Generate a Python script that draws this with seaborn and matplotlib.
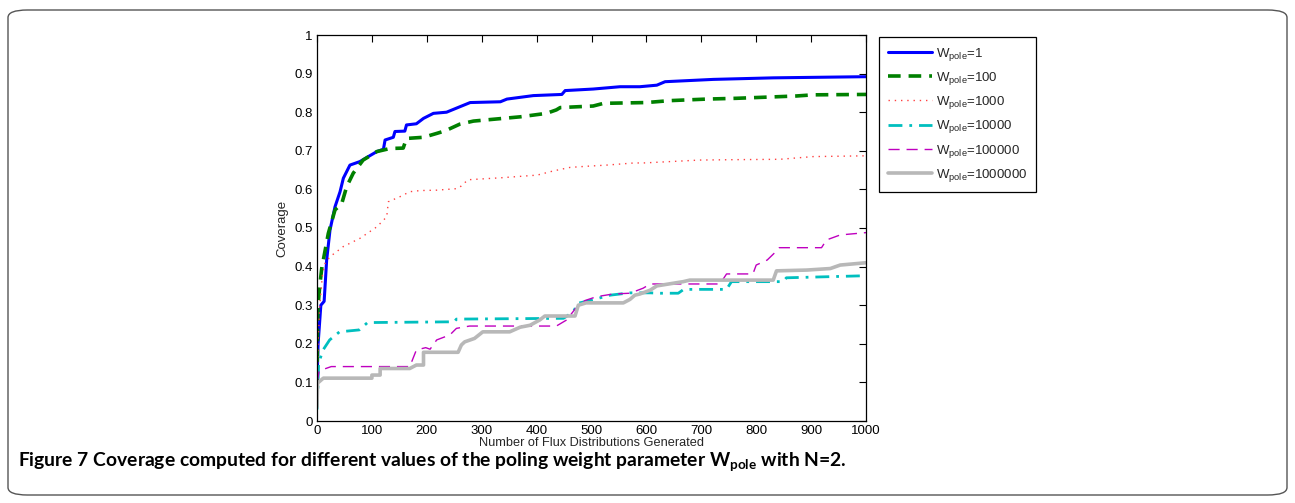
import numpy as np
import pandas as pd
import matplotlib
matplotlib.use("Agg")
import matplotlib.pyplot as plt
from matplotlib.patches import FancyBboxPatch
import seaborn as sns

# ---------------- data ----------------
x_w1 = [0, 2, 7, 13, 17.6, 23.7, 32.8, 42, 48, 60, 78, 109, 121, 124, 139, 142, 160, 163, 181, 194,
        212, 236, 260, 279, 334, 346, 394, 446, 452, 503, 552, 588, 619, 634, 722, 831, 1000]
y_w1 = [0.10, 0.20, 0.30, 0.31, 0.417, 0.495, 0.555, 0.594, 0.629, 0.663, 0.672, 0.698, 0.704, 0.728,
        0.735, 0.75, 0.751, 0.767, 0.77, 0.784, 0.797, 0.80, 0.814, 0.825, 0.827, 0.834, 0.843, 0.846,
        0.856, 0.86, 0.866, 0.866, 0.87, 0.879, 0.885, 0.889, 0.892]

x_w100 = [0, 1, 2, 5, 9, 11.5, 20.6, 32.8, 45, 54, 66, 84, 109, 133, 157, 163, 194, 218, 234, 260,
          285, 370, 418, 436, 443, 503, 522, 600, 643, 710, 764, 873, 904, 1000]
y_w100 = [0.10, 0.25, 0.30, 0.35, 0.40, 0.417, 0.486, 0.547, 0.563, 0.607, 0.642, 0.676, 0.698, 0.706,
          0.707, 0.732, 0.735, 0.745, 0.752, 0.769, 0.777, 0.788, 0.797, 0.806, 0.812, 0.816, 0.823,
          0.825, 0.83, 0.834, 0.836, 0.842, 0.845, 0.846]

x_w1000 = [0, 2, 5, 10, 15, 24, 48, 78, 109, 127, 130, 151, 169, 188, 218, 255, 262, 275, 334, 401,
           431, 461, 492, 528, 582, 588, 697, 758, 843, 904, 1000]
y_w1000 = [0.10, 0.20, 0.30, 0.38, 0.41, 0.426, 0.452, 0.473, 0.503, 0.529, 0.568, 0.581, 0.594,
           0.597, 0.598, 0.602, 0.608, 0.625, 0.63, 0.637, 0.648, 0.657, 0.66, 0.663, 0.669, 0.668,
           0.676, 0.677, 0.678, 0.685, 0.687]

x_w10000 = [0, 2, 3, 11, 23, 41, 77, 92, 250, 254, 449, 467, 475, 497, 534, 570, 607, 625, 658, 668,
            746, 755, 849, 855, 990, 1000]
y_w10000 = [0.03, 0.10, 0.15, 0.184, 0.21, 0.231, 0.236, 0.255, 0.257, 0.264, 0.266, 0.283, 0.305,
            0.312, 0.326, 0.332, 0.332, 0.331, 0.331, 0.341, 0.341, 0.361, 0.361, 0.371, 0.376, 0.376]

x_w100000 = [0, 4, 26, 169, 181, 198, 206, 218, 242, 254, 278, 436, 455, 470, 488, 509, 539, 570, 594,
             607, 734, 746, 794, 800, 820, 836, 842, 919, 928, 953, 1000]
y_w100000 = [0.10, 0.13, 0.141, 0.141, 0.184, 0.19, 0.186, 0.21, 0.223, 0.24, 0.246, 0.246, 0.262,
             0.29, 0.312, 0.322, 0.329, 0.331, 0.344, 0.355, 0.355, 0.381, 0.381, 0.404, 0.417, 0.439,
             0.449, 0.449, 0.469, 0.482, 0.488]

x_w1000000 = [0, 1, 11.5, 100, 100, 115, 115, 169, 181, 194, 194, 257, 263, 269, 287, 302, 351, 370,
              388, 406, 415, 470, 476, 490, 558, 570, 579, 588, 607, 619, 667, 679, 831, 837, 892, 935,
              953, 1000]
y_w1000000 = [0.037, 0.098, 0.111, 0.111, 0.119, 0.119, 0.136, 0.136, 0.145, 0.145, 0.178, 0.178,
              0.197, 0.205, 0.214, 0.231, 0.231, 0.243, 0.248, 0.262, 0.272, 0.272, 0.30, 0.306, 0.306,
              0.315, 0.326, 0.329, 0.339, 0.35, 0.361, 0.365, 0.365, 0.389, 0.391, 0.395, 0.404, 0.41]

labels = [r"W$_{\mathrm{pole}}$=1", r"W$_{\mathrm{pole}}$=100", r"W$_{\mathrm{pole}}$=1000",
          r"W$_{\mathrm{pole}}$=10000", r"W$_{\mathrm{pole}}$=100000", r"W$_{\mathrm{pole}}$=1000000"]
xticks = [0, 100, 200, 300, 400, 500, 600, 700, 800, 900, 1000]
yticks = [0, 0.1, 0.2, 0.3, 0.4, 0.5, 0.6, 0.7, 0.8, 0.9, 1]
ytick_labels = ["0", "0.1", "0.2", "0.3", "0.4", "0.5", "0.6", "0.7", "0.8", "0.9", "1"]
x_label = "Number of Flux Distributions Generated"
y_label = "Coverage"
caption = (r"Figure 7 Coverage computed for different values of the poling weight parameter "
           r"W$_{\mathbf{pole}}$ with N=2.")

# ---------------- styling ----------------
sns.set_theme(style="white")
plt.rcParams["font.family"] = ["Liberation Sans", "DejaVu Sans"]
plt.rcParams["mathtext.fontset"] = "custom"
plt.rcParams["mathtext.rm"] = "Liberation Sans"
plt.rcParams["mathtext.bf"] = "Lato:bold"

fig = plt.figure(figsize=(12.95, 5.03), dpi=100)
ax = fig.add_axes([317 / 1295, 82 / 503, 549 / 1295, 386 / 503])

series = [
    (x_w1, y_w1, dict(color=(0, 0, 1), lw=2.2, linestyle="-")),
    (x_w100, y_w100, dict(color=(0, 0.5, 0), lw=2.6, linestyle=(0, (3.5, 2.2)))),
    (x_w1000, y_w1000, dict(color=(1, 0.25, 0.25), lw=1.0, linestyle=(0, (1, 3.5)))),
    (x_w10000, y_w10000, dict(color=(0, 0.75, 0.75), lw=2.0, linestyle=(0, (5, 2.5, 1, 2.5)))),
    (x_w100000, y_w100000, dict(color=(0.75, 0, 0.75), lw=1.0, linestyle=(0, (8, 5)))),
    (x_w1000000, y_w1000000, dict(color=(0.72, 0.72, 0.72), lw=2.6, linestyle="-")),
]

for (xs, ys, st), lab in zip(series, labels):
    df = pd.DataFrame({"x": xs, "y": ys})
    sns.lineplot(data=df, x="x", y="y", ax=ax, sort=False, estimator=None,
                 label=lab, **st)

ax.set_xlim(0, 1000)
ax.set_ylim(0, 1)
ax.set_xticks(xticks)
ax.set_xticklabels([str(t) for t in xticks])
ax.set_yticks(yticks)
ax.set_yticklabels(ytick_labels)
ax.tick_params(direction="in", length=5, width=0.8, top=True, right=True,
               labelsize=9.5, colors="black", pad=3)
ax.tick_params(axis="x", pad=3)
for s in ax.spines.values():
    s.set_visible(True)
    s.set_color("black")
    s.set_linewidth(0.9)
ax.set_xlabel(x_label, fontsize=9.2, labelpad=0)
ax.set_ylabel(y_label, fontsize=9.5, labelpad=4)

handles, labs = ax.get_legend_handles_labels()
ax.get_legend().remove()
leg = fig.legend(handles, labs, loc="upper left",
                 bbox_to_anchor=(879 / 1295, 1 - 37 / 503), fontsize=9.5,
                 frameon=True, fancybox=False, edgecolor="black", framealpha=1,
                 handlelength=3.4, handletextpad=0.3, labelspacing=0.55,
                 borderpad=0.65, borderaxespad=0)
leg.get_frame().set_linewidth(0.9)

# outer rounded frame
frame = FancyBboxPatch((8 / 1295, 8 / 503), 1279 / 1295, 485 / 503,
                       boxstyle="round,pad=0,rounding_size=0.015",
                       transform=fig.transFigure, fill=False,
                       edgecolor="#555555", linewidth=1.0)
fig.patches.append(frame)

# caption
fig.text(18 / 1295, 1 - 462 / 503, caption,
         fontsize=13.9, fontweight="bold", family=["Lato", "DejaVu Sans"],
         va="center", ha="left", color="black")

fig.savefig("out.png", dpi=100)
